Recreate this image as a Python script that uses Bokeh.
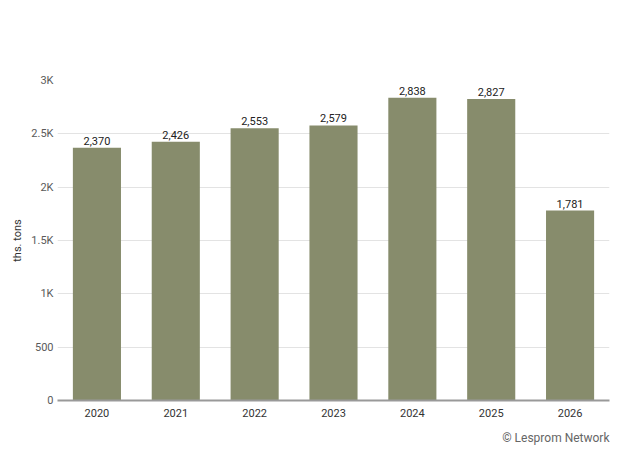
from bokeh.plotting import figure
from bokeh.models import ColumnDataSource, FixedTicker, LabelSet, Title
from bokeh.core.properties import value
from bokeh.embed import file_html
from bokeh.resources import INLINE

years = ["2020", "2021", "2022", "2023", "2024", "2025", "2026"]
values = [2370, 2426, 2553, 2579, 2838, 2827, 1781]
value_labels = ["2,370", "2,426", "2,553", "2,579", "2,838", "2,827", "1,781"]
y_ticks = [0, 500, 1000, 1500, 2000, 2500, 3000]
y_tick_labels = ["0", "500", "1K", "1.5K", "2K", "2.5K", "3K"]

FONT = "Roboto"

source = ColumnDataSource(data=dict(x=years, top=values, label=value_labels))

p = figure(x_range=years, y_range=(0, 3000), frame_width=552, frame_height=320,
           output_backend="svg", toolbar_location=None,
           min_border_left=57, min_border_right=6, min_border_top=80, min_border_bottom=10)
p.outline_line_color = None
p.background_fill_color = "white"
p.border_fill_color = "white"

p.vbar(x="x", top="top", width=0.61, source=source, fill_color="#878c6c", line_color=None)

labels = LabelSet(x="x", y="top", text="label", source=source, text_align="center",
                  text_baseline="bottom", y_offset=3, text_font_size="11px",
                  text_color="#222222", text_font=value(FONT))
p.add_layout(labels)

p.yaxis.ticker = FixedTicker(ticks=y_ticks)
p.yaxis.major_label_overrides = {t: l for t, l in zip(y_ticks, y_tick_labels)}
p.yaxis.axis_line_color = None
p.yaxis.major_tick_line_color = None
p.yaxis.minor_tick_line_color = None
p.yaxis.major_tick_out = 0
p.yaxis.major_tick_in = 0
p.yaxis.minor_tick_out = 0
p.yaxis.major_label_text_font_size = "11px"
p.yaxis.major_label_text_color = "#5a5a5a"
p.yaxis.major_label_text_font = FONT
p.yaxis.major_label_standoff = 4
p.yaxis.axis_label = "ths. tons"
p.yaxis.axis_label_text_font_size = "11px"
p.yaxis.axis_label_text_font_style = "normal"
p.yaxis.axis_label_text_color = "#333333"
p.yaxis.axis_label_text_font = FONT
p.yaxis.axis_label_standoff = 4

p.xaxis.axis_line_color = "#999999"
p.xaxis.axis_line_width = 2
p.xaxis.major_tick_line_color = None
p.xaxis.minor_tick_line_color = None
p.xaxis.major_tick_out = 0
p.xaxis.major_tick_in = 0
p.xaxis.major_label_text_font_size = "11px"
p.xaxis.major_label_text_color = "#333333"
p.xaxis.major_label_text_font = FONT
p.xaxis.major_label_standoff = 8

p.xgrid.grid_line_color = None
p.ygrid.grid_line_color = "#e3e3e3"
p.ygrid.grid_line_width = 1

credit = Title(text="© Lesprom Network", align="right", text_font_size="12px",
               text_font_style="normal", text_color="#666666", text_font=FONT,
               offset=0, standoff=18)
p.add_layout(credit, "below")

open("out.html", "w").write(file_html(p, INLINE))
